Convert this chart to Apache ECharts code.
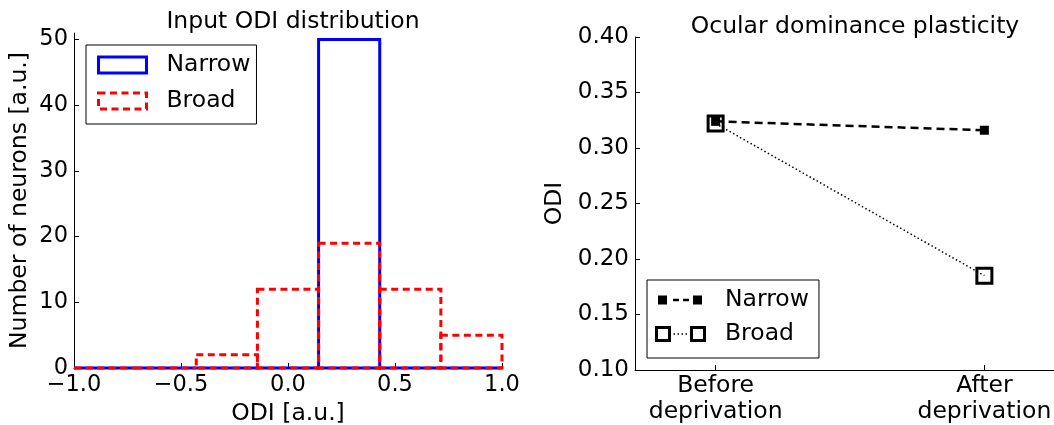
<!DOCTYPE html>
<html>
<head>
<meta charset="utf-8">
<script src="https://cdn.jsdelivr.net/npm/echarts@6/dist/echarts.min.js"></script>
<style>
html,body{margin:0;padding:0;background:#fff;}
#chart{width:1054px;height:425px;}
</style>
</head>
<body>
<div id="chart"></div>
<script>
// ---- Data ----
const binEdges = [-1.0, -0.7143, -0.4286, -0.1429, 0.1429, 0.4286, 0.7143, 1.0];
const narrowCounts = [0, 0, 0, 0, 50, 0, 0];
const broadCounts = [0, 0, 2, 12, 19, 12, 5];
const histXTicks = [-1.0, -0.5, 0.0, 0.5, 1.0];
const histYTicks = [0, 10, 20, 30, 40, 50];

const stageLabels = ['Before\ndeprivation', 'After\ndeprivation'];
const narrowODI = [0.324, 0.316];
const broadODI = [0.322, 0.185];
const odiTicks = [0.10, 0.15, 0.20, 0.25, 0.30, 0.35, 0.40];

const FONT = 'DejaVu Sans';

function binData(counts) {
  return counts.map((c, i) => [binEdges[i], binEdges[i + 1], c]);
}
function histRender(color, dash) {
  return function (params, api) {
    const p0 = api.coord([api.value(0), api.value(2)]);
    const p1 = api.coord([api.value(1), 0]);
    return {
      type: 'rect',
      shape: { x: p0[0], y: p0[1], width: p1[0] - p0[0], height: p1[1] - p0[1] },
      style: { fill: 'none', stroke: color, lineWidth: 3, lineDash: dash }
    };
  };
}
function fmtSigned(v) {
  return (v < 0 ? '\u2212' : '') + Math.abs(v).toFixed(1);
}

const narrowIcon = 'path://M0,0h0.01v0.01z M53,17h-0.01v-0.01z M4,4h9v9h-9z M19,7.25h6v2.5h-6z M29,7.25h6v2.5h-6z M39,4h9v9h-9z';
const broadIcon = 'path://M0,0h0.01v0.01z M53,17h-0.01v-0.01z M1,0.5H17V16.5H1Z M4,3.5V13.5H14V3.5Z M36,0.5H52V16.5H36Z M39,3.5V13.5H49V3.5Z M19.5,7.75h1.5v1.5h-1.5z M23.5,7.75h1.5v1.5h-1.5z M27.5,7.75h1.5v1.5h-1.5z M31.5,7.75h1.5v1.5h-1.5z';

const axisLine = { show: true, onZero: false, lineStyle: { color: '#000', width: 1 } };
const tickStyle = { show: true, inside: true, length: 5, lineStyle: { color: '#000', width: 1 } };

const option = {
  animation: false,
  backgroundColor: '#fff',
  textStyle: { fontFamily: FONT },
  title: [
    { text: 'Input ODI distribution', left: 288, top: 5, textAlign: 'center',
      textStyle: { fontFamily: FONT, fontSize: 23.5, fontWeight: 'normal', color: '#000' } },
    { text: 'Ocular dominance plasticity', left: 850, top: 10, textAlign: 'center',
      textStyle: { fontFamily: FONT, fontSize: 23.5, fontWeight: 'normal', color: '#000' } }
  ],
  grid: [
    { left: 74, right: 552, top: 33, bottom: 57, outerBoundsMode: 'none', containLabel: false },
    { left: 635, right: -11, top: 37, bottom: 55, outerBoundsMode: 'none', containLabel: false }
  ],
  xAxis: [
    { gridIndex: 0, type: 'value', min: -1, max: 1,
      name: 'ODI [a.u.]', nameLocation: 'middle', nameGap: 32,
      nameTextStyle: { fontFamily: FONT, fontSize: 23.5, color: '#000' },
      axisLine: axisLine, axisTick: Object.assign({ customValues: histXTicks }, tickStyle),
      axisLabel: { customValues: histXTicks, formatter: fmtSigned, fontFamily: FONT, fontSize: 22.5, color: '#000', margin: 6 },
      splitLine: { show: false } },
    { gridIndex: 1, type: 'value', min: -0.3, max: 1.3,
      axisLine: axisLine, axisTick: Object.assign({ customValues: [0, 1] }, tickStyle),
      axisLabel: { customValues: [0, 1], formatter: v => stageLabels[Math.round(v)], fontFamily: FONT, fontSize: 23.5, color: '#000', margin: 3, lineHeight: 26 },
      splitLine: { show: false } }
  ],
  yAxis: [
    { gridIndex: 0, type: 'value', min: 0, max: 51,
      name: 'Number of neurons [a.u.]', nameLocation: 'middle', nameGap: 42,
      nameTextStyle: { fontFamily: FONT, fontSize: 23.5, color: '#000' },
      axisLine: axisLine, axisTick: Object.assign({ customValues: histYTicks }, tickStyle),
      axisLabel: { customValues: histYTicks, fontFamily: FONT, fontSize: 22.5, color: '#000', margin: 6 },
      splitLine: { show: false } },
    { gridIndex: 1, type: 'value', min: 0.1, max: 0.4,
      name: 'ODI', nameLocation: 'middle', nameGap: 68,
      nameTextStyle: { fontFamily: FONT, fontSize: 23.5, color: '#000' },
      axisLine: axisLine, axisTick: Object.assign({ customValues: odiTicks }, tickStyle),
      axisLabel: { customValues: odiTicks, formatter: v => v.toFixed(2), fontFamily: FONT, fontSize: 23, color: '#000', margin: 6 },
      splitLine: { show: false } }
  ],
  legend: [
    { left: 86, top: 45, orient: 'vertical', align: 'left',
      padding: [7, 6, 10, 11], itemGap: 10, itemWidth: 48, itemHeight: 16,
      borderColor: '#000', borderWidth: 1, borderRadius: 0, backgroundColor: '#fff',
      textStyle: { fontFamily: FONT, fontSize: 23.5, color: '#000', lineHeight: 26, padding: [0, 0, 0, 15] },
      data: [
        { name: 'Narrow', icon: 'rect', itemStyle: { color: 'rgba(0,0,0,0)', borderColor: '#0000ff', borderWidth: 3, borderType: 'solid' } },
        { name: 'Broad ', icon: 'rect', itemStyle: { color: 'rgba(0,0,0,0)', borderColor: '#ff0000', borderWidth: 3, borderType: [7, 4.5] } }
      ],
      formatter: n => n.trim() },
    { left: 647, top: 280, orient: 'vertical', align: 'left',
      padding: [7, 10, 11, 7], itemGap: 8, itemWidth: 53, itemHeight: 17,
      borderColor: '#000', borderWidth: 1, borderRadius: 0, backgroundColor: '#fff',
      textStyle: { fontFamily: FONT, fontSize: 23.5, color: '#000', lineHeight: 26, padding: [0, 0, 0, 13] },
      data: [
        { name: 'Narrow ', icon: narrowIcon, itemStyle: { color: '#000', borderWidth: 0 } },
        { name: 'Broad', icon: broadIcon, itemStyle: { color: '#000', borderWidth: 0 } }
      ],
      formatter: n => n.trim() }
  ],
  series: [
    { name: 'Narrow', type: 'custom', xAxisIndex: 0, yAxisIndex: 0,
      renderItem: histRender('#0000ff', null), encode: { x: [0, 1], y: 2 },
      itemStyle: { color: 'rgba(0,0,0,0)', borderColor: '#0000ff', borderWidth: 3 },
      data: binData(narrowCounts), z: 2 },
    { name: 'Broad ', type: 'custom', xAxisIndex: 0, yAxisIndex: 0,
      renderItem: histRender('#ff0000', [7, 4.5]), encode: { x: [0, 1], y: 2 },
      itemStyle: { color: 'rgba(0,0,0,0)', borderColor: '#ff0000', borderWidth: 3 },
      data: binData(broadCounts), z: 3 },
    { name: 'Narrow ', type: 'line', xAxisIndex: 1, yAxisIndex: 1,
      data: narrowODI.map((v, i) => [i, v]),
      symbol: 'rect', symbolSize: 9,
      itemStyle: { color: '#000' },
      lineStyle: { color: '#000', width: 2.5, type: [8, 5] }, z: 3 },
    { name: 'Broad', type: 'line', xAxisIndex: 1, yAxisIndex: 1,
      data: broadODI.map((v, i) => [i, v]),
      symbol: 'rect', symbolSize: 15,
      itemStyle: { color: 'rgba(0,0,0,0)', borderColor: '#000', borderWidth: 3 },
      lineStyle: { color: '#000', width: 1.5, type: [1.5, 2.5] }, z: 4 }
  ]
};

const chart = echarts.init(document.getElementById('chart'), null, { renderer: 'canvas' });
chart.setOption(option);
</script>
</body>
</html>
